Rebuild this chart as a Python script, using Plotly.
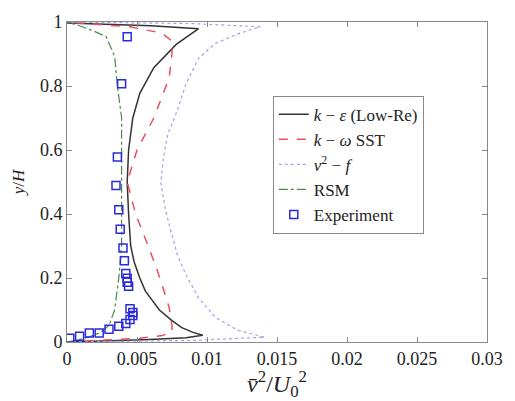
import plotly.graph_objects as go

# k-epsilon (Low-Re)
ke_y = [0, 0.003, 0.007, 0.013, 0.021, 0.03, 0.045, 0.067, 0.1, 0.159, 0.2, 0.25, 0.3, 0.4, 0.5,
        0.6, 0.7, 0.777, 0.857, 0.93, 0.955, 0.979, 0.988, 0.993, 0.997]
ke_v = [0, 0.0025, 0.0055, 0.0085, 0.0097, 0.0090, 0.0082, 0.0075, 0.0066, 0.0056, 0.0052, 0.0048, 0.00455, 0.0044, 0.0043,
        0.0044, 0.0047, 0.0052, 0.0062, 0.0078, 0.0086, 0.0094, 0.006, 0.002, 0]

# k-omega SST
kw_y = [0, 0.004, 0.012, 0.02, 0.031, 0.05, 0.107, 0.15, 0.23, 0.3, 0.4, 0.5, 0.6, 0.7, 0.826, 0.9, 0.94, 0.965, 0.985, 0.993, 1.0]
kw_v = [0, 0.002, 0.0052, 0.0068, 0.0075, 0.0075, 0.0073, 0.0070, 0.0064, 0.0058, 0.0049, 0.0043, 0.0050, 0.0062, 0.0073, 0.0075, 0.0075, 0.0068, 0.0045, 0.002, 0]

# v2-f
vf_y = [0, 0.005, 0.015, 0.037, 0.077, 0.138, 0.21, 0.27, 0.35, 0.42, 0.5, 0.58, 0.65, 0.725, 0.807, 0.887, 0.933, 0.963, 0.985, 0.995, 1.0]
vf_v = [0, 0.009, 0.0141, 0.0122, 0.0106, 0.0094, 0.0085, 0.0079, 0.0074, 0.0070, 0.0067, 0.0069, 0.0072, 0.0079, 0.0085, 0.0094, 0.0106, 0.0122, 0.0138, 0.009, 0]

# RSM
rsm_y = [0, 0.005, 0.015, 0.03, 0.052, 0.1, 0.2, 0.25, 0.3, 0.5, 0.7, 0.8, 0.893, 0.954, 0.97, 0.985, 0.994, 1.0]
rsm_v = [0, 0.0006, 0.0015, 0.0024, 0.003, 0.0034, 0.0037, 0.0038, 0.0039, 0.0039, 0.0039, 0.0036, 0.0034, 0.0028, 0.002, 0.0011, 0.0005, 0]

# Experiment
exp_v = [0.0002, 0.0009, 0.0016, 0.0023, 0.0030, 0.0037, 0.0042, 0.0045, 0.0047, 0.0047, 0.0045,
         0.0044, 0.0043, 0.0043, 0.0042, 0.0041, 0.0040, 0.0038, 0.0037, 0.0035, 0.0036, 0.0039, 0.0043]
exp_y = [0.012, 0.018, 0.028, 0.028, 0.040, 0.049, 0.058, 0.070, 0.083, 0.092, 0.104,
         0.174, 0.187, 0.199, 0.214, 0.254, 0.294, 0.352, 0.413, 0.489, 0.578, 0.807, 0.954]

x_ticks = [0, 0.005, 0.01, 0.015, 0.02, 0.025, 0.03]
x_labels = ["0", "0.005", "0.01", "0.015", "0.02", "0.025", "0.03"]
y_ticks = [0, 0.2, 0.4, 0.6, 0.8, 1]
y_labels = ["0", "0.2", "0.4", "0.6", "0.8", "1"]

SERIF = "Liberation Serif"

fig = go.Figure()
fig.add_trace(go.Scatter(x=ke_v, y=ke_y, mode="lines", name="<i>k</i> − <i>ε</i> (Low-Re)",
                         line=dict(color="#333333", width=1.5)))
fig.add_trace(go.Scatter(x=kw_v, y=kw_y, mode="lines", name="<i>k</i> − <i>ω</i> SST",
                         line=dict(color="#e8505e", width=1.5, dash="dash")))
fig.add_trace(go.Scatter(x=vf_v, y=vf_y, mode="lines", name="<i>v</i><sup>2</sup> − <i>f</i>",
                         line=dict(color="#a0a0f0", width=1.2, dash="dot")))
fig.add_trace(go.Scatter(x=rsm_v, y=rsm_y, mode="lines", name="RSM",
                         line=dict(color="#4a8a4a", width=1.2, dash="dashdot")))
fig.add_trace(go.Scatter(x=exp_v, y=exp_y, mode="markers", name="Experiment",
                         marker=dict(symbol="square-open", size=8, color="#2a2ad8", line=dict(width=1.5))))

axis_common = dict(showline=True, linecolor="#888888", linewidth=1, mirror="allticks",
                   ticks="inside", ticklen=5, tickcolor="#888888", showgrid=False, zeroline=False,
                   tickfont=dict(family=SERIF, size=18, color="#222222"))

fig.update_layout(
    width=515, height=401,
    font=dict(family=SERIF, size=18, color="#222222"),
    margin=dict(l=67, r=23, t=15, b=59),
    paper_bgcolor="white", plot_bgcolor="white",
    xaxis=dict(range=[0, 0.03], tickvals=x_ticks, ticktext=x_labels,
               title=dict(text="<i>v̄</i><sup>2</sup>/<i>U</i><sub>0</sub><sup>2</sup>",
                          font=dict(family=SERIF, size=24, color="#222222"), standoff=0),
               **axis_common),
    yaxis=dict(range=[0, 1], tickvals=y_ticks, ticktext=y_labels,
               title=dict(text="<i>y</i>/<i>H</i>", font=dict(family=SERIF, size=17, color="#222222"), standoff=10),
               **axis_common),
    legend=dict(x=0.49, y=0.77, xanchor="left", yanchor="top",
                bgcolor="white", bordercolor="#888888", borderwidth=1,
                font=dict(family=SERIF, size=17, color="#222222"),
                itemwidth=30, tracegroupgap=0),
    showlegend=True,
)

fig.write_html("out.html")
